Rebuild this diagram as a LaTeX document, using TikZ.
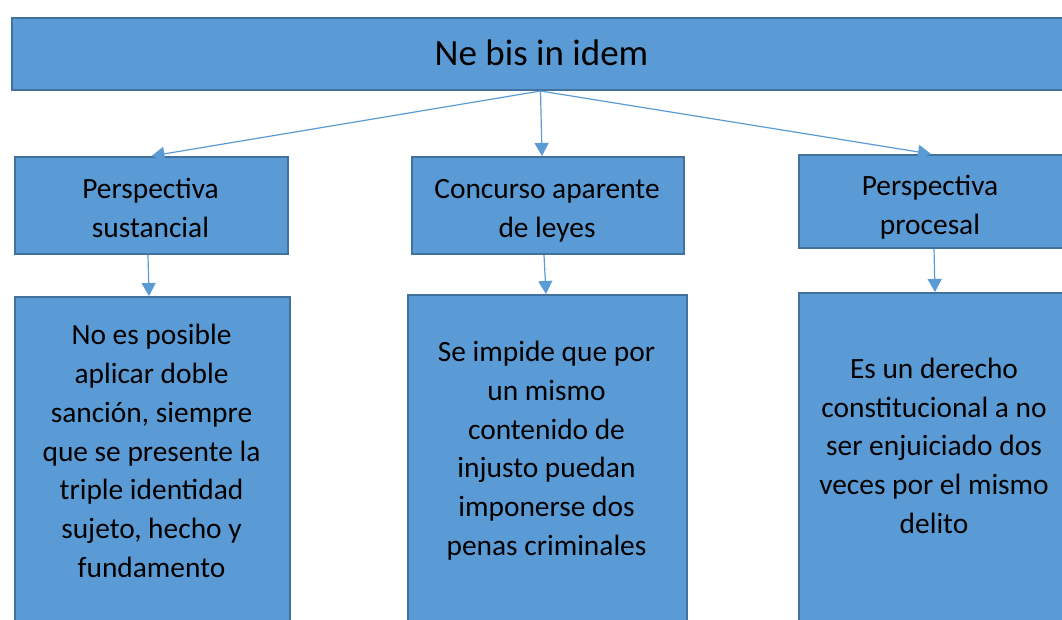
\documentclass[tikz,border=0pt]{standalone}
\usepackage{fontspec}
\setmainfont{Carlito}
\usetikzlibrary{arrows.meta}
\definecolor{boxfill}{HTML}{5B9BD5}
\definecolor{boxline}{HTML}{41719C}
\tikzset{
  box/.style={draw=boxline, fill=boxfill, line width=2pt, rectangle, inner sep=0pt, anchor=north west},
  arr/.style={draw=boxfill, line width=1.2pt, -{Triangle[length=13pt,width=14pt]}},
  lbl/.style={anchor=base, align=center, inner sep=0pt, font=\fontsize{29.4}{38.8}\selectfont},
  ttl/.style={anchor=base, inner sep=0pt, font=\fontsize{37}{44}\selectfont}
}
\begin{document}
\begin{tikzpicture}[x=1pt,y=-1pt]
\useasboundingbox (0,0) rectangle (1062,619);
\clip (0,0) rectangle (1062,619);
\node[box, minimum width=1057pt, minimum height=72pt] (top) at (11,17) {};
\node[box, minimum width=273pt, minimum height=97pt] (a) at (14,156) {};
\node[box, minimum width=272pt, minimum height=97pt] (b) at (411,156) {};
\node[box, minimum width=300pt, minimum height=93pt] (c) at (798,154) {};
\node[box, minimum width=275pt, minimum height=400pt] (a2) at (14,296) {};
\node[box, minimum width=279pt, minimum height=400pt] (b2) at (407,294) {};
\node[box, minimum width=300pt, minimum height=400pt] (c2) at (798,292) {};
\node[ttl] (ttop) at (541.5,65) {Ne bis in idem};
\node[lbl] (ta) at (150.5,237) {Perspectiva\\sustancial};
\node[lbl] (tb) at (547,237) {Concurso aparente\\de leyes};
\node[lbl] (tc) at (930,234) {Perspectiva\\procesal};
\node[lbl] (ta2) at (151.5,577.5) {No es posible\\aplicar doble\\sanción, siempre\\que se presente la\\triple identidad\\sujeto, hecho y\\fundamento};
\node[lbl] (tb2) at (546.5,555.5) {Se impide que por\\un mismo\\contenido de\\injusto puedan\\imponerse dos\\penas criminales};
\node[lbl] (tc2) at (934,533.5) {Es un derecho\\constitucional a no\\ser enjuiciado dos\\veces por el mismo\\delito};
\draw[arr] (top.south) -- (a.north);
\draw[arr] (top.south) -- ([xshift=-6pt]b.north);
\draw[arr] (top.south) -- ([xshift=-18pt]c.north);
\draw[arr] ([xshift=-3.5pt]a.south) -- ([xshift=-3.5pt]a2.north);
\draw[arr] ([xshift=-4pt]b.south) -- ([xshift=-1.5pt]b2.north);
\draw[arr] ([xshift=-15pt]c.south) -- ([xshift=-14pt]c2.north);
\end{tikzpicture}
\end{document}
